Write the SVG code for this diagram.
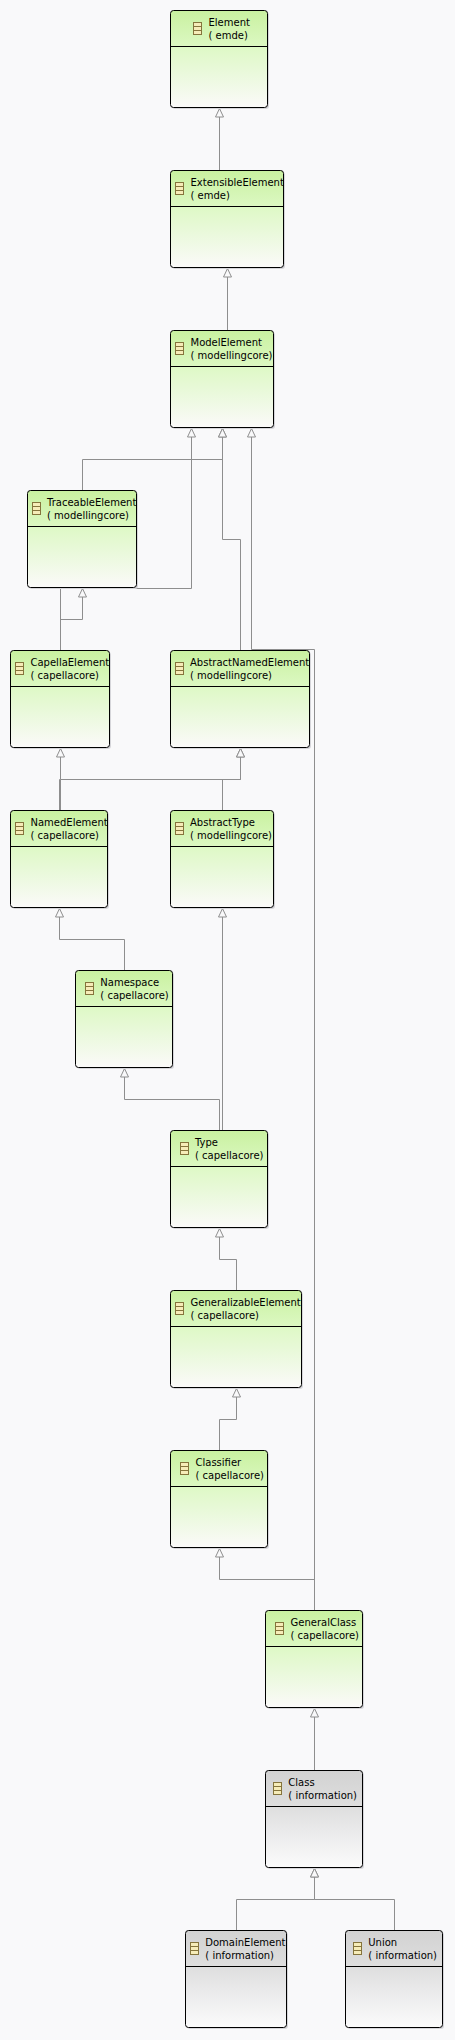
<svg xmlns="http://www.w3.org/2000/svg" width="455" height="2040" viewBox="0 0 455 2040">
<style>
.bg{fill:#f9f9fa}
.conn path{fill:none;stroke:#8e8e8e;stroke-width:1;marker-end:url(#tri)}
.sh{fill:#d6d6da;stroke:none}
.box{stroke:#000;stroke-width:1}
.green{fill:url(#gGreen)}
.gray{fill:url(#gGray)}
.div{stroke:#000;stroke-width:1;fill:none}
.label{font-family:"DejaVu Sans","Liberation Sans",sans-serif;font-size:10px;fill:#000}
.ic rect{fill:#f6ecb8;stroke:#85743c;stroke-width:1}
.ic path{fill:none;stroke:#85743c;stroke-width:1}
</style>
<defs>
<linearGradient id="gGreen" x1="0" y1="0" x2="0" y2="1">
<stop offset="0" stop-color="#c9f1a0"/><stop offset="0.37" stop-color="#dcf8c2"/><stop offset="0.38" stop-color="#def9c6"/><stop offset="0.6" stop-color="#e8f9d8"/><stop offset="1" stop-color="#fbfaf9"/>
</linearGradient>
<linearGradient id="gGray" x1="0" y1="0" x2="0" y2="1">
<stop offset="0" stop-color="#d2d2d2"/><stop offset="0.37" stop-color="#dedede"/><stop offset="0.6" stop-color="#e9e9ea"/><stop offset="1" stop-color="#fbfbfb"/>
</linearGradient>
<marker id="tri" markerUnits="userSpaceOnUse" viewBox="-1 -5 11 10" markerWidth="11" markerHeight="10" refX="8.5" refY="0" orient="auto">
<path d="M0,-4 L8.5,0 L0,4 Z" fill="#f9f9fa" stroke="#8e8e8e" stroke-width="1"/>
</marker>
<g id="icon" class="ic"><rect x="0.5" y="0.5" width="8" height="12"/><path d="M0.5,4.5H8.5M0.5,8.5H8.5"/></g>
<clipPath id="c1"><rect x="170" y="10" width="98" height="36"/></clipPath>
<clipPath id="c2"><rect x="170" y="170" width="113" height="36"/></clipPath>
<clipPath id="c3"><rect x="170" y="330" width="103" height="36"/></clipPath>
<clipPath id="c4"><rect x="27" y="490" width="109" height="36"/></clipPath>
<clipPath id="c5"><rect x="10" y="650" width="99" height="36"/></clipPath>
<clipPath id="c6"><rect x="170" y="650" width="139" height="36"/></clipPath>
<clipPath id="c7"><rect x="10" y="810" width="97" height="36"/></clipPath>
<clipPath id="c8"><rect x="170" y="810" width="103" height="36"/></clipPath>
<clipPath id="c9"><rect x="75" y="970" width="97" height="36"/></clipPath>
<clipPath id="c10"><rect x="170" y="1130" width="97" height="36"/></clipPath>
<clipPath id="c11"><rect x="170" y="1290" width="131" height="36"/></clipPath>
<clipPath id="c12"><rect x="170" y="1450" width="97" height="36"/></clipPath>
<clipPath id="c13"><rect x="265" y="1610" width="97" height="36"/></clipPath>
<clipPath id="c14"><rect x="265" y="1770" width="97" height="36"/></clipPath>
<clipPath id="c15"><rect x="185" y="1930" width="101" height="36"/></clipPath>
<clipPath id="c16"><rect x="345" y="1930" width="97" height="36"/></clipPath>
</defs>
<rect class="bg" x="0" y="0" width="455" height="2040"/>
<g id="connectors" class="conn">
<path d="M219.5,170V108.5"/>
<path d="M227.5,330V268.5"/>
<path d="M82.5,490V459.5H222.5V428.5"/>
<path d="M240.5,650V539.5H222.5V428.5"/>
<path d="M60.5,650V588.5H191.5V428.5"/>
<path d="M314.5,1610V649.5H251.5V428.5"/>
<path d="M60.5,650V619.5H82.5V588.5"/>
<path d="M59.5,810V779.5H60.5V748.5"/>
<path d="M60.5,810V779.5H240.5V748.5"/>
<path d="M222.5,810V779.5H240.5V748.5"/>
<path d="M124.5,970V939.5H59.5V908.5"/>
<path d="M219.5,1130V1099.5H124.5V1068.5"/>
<path d="M222.5,1130V908.5"/>
<path d="M236.5,1290V1259.5H219.5V1228.5"/>
<path d="M219.5,1450V1419.5H236.5V1388.5"/>
<path d="M314.5,1610V1579.5H219.5V1548.5"/>
<path d="M314.5,1770V1708.5"/>
<path d="M236.5,1930V1899.5H314.5V1868.5"/>
<path d="M394.5,1930V1899.5H314.5V1868.5"/>
</g>
<g id="node-element"><rect class="sh" x="172" y="12" width="97" height="97" rx="3"/><rect class="box green" x="170.5" y="10.5" width="97" height="97" rx="3"/><path class="div" d="M170.5,46.5H267.5"/><use href="#icon" x="193" y="22"/><g clip-path="url(#c1)" class="label"><text x="208.5" y="26">Element</text><text x="208.5" y="39">( emde)</text></g></g>
<g id="node-extensibleelement"><rect class="sh" x="172" y="172" width="113" height="97" rx="3"/><rect class="box green" x="170.5" y="170.5" width="113" height="97" rx="3"/><path class="div" d="M170.5,206.5H283.5"/><use href="#icon" x="175" y="182"/><g clip-path="url(#c2)" class="label"><text x="190.5" y="186">ExtensibleElement</text><text x="190.5" y="199">( emde)</text></g></g>
<g id="node-modelelement"><rect class="sh" x="172" y="332" width="103" height="97" rx="3"/><rect class="box green" x="170.5" y="330.5" width="103" height="97" rx="3"/><path class="div" d="M170.5,366.5H273.5"/><use href="#icon" x="175" y="342"/><g clip-path="url(#c3)" class="label"><text x="190.5" y="346">ModelElement</text><text x="190.5" y="359">( modellingcore)</text></g></g>
<g id="node-traceableelement"><rect class="sh" x="29" y="492" width="109" height="97" rx="3"/><rect class="box green" x="27.5" y="490.5" width="109" height="97" rx="3"/><path class="div" d="M27.5,526.5H136.5"/><use href="#icon" x="32" y="502"/><g clip-path="url(#c4)" class="label"><text x="47" y="506">TraceableElement</text><text x="47" y="519">( modellingcore)</text></g></g>
<g id="node-capellaelement"><rect class="sh" x="12" y="652" width="99" height="97" rx="3"/><rect class="box green" x="10.5" y="650.5" width="99" height="97" rx="3"/><path class="div" d="M10.5,686.5H109.5"/><use href="#icon" x="15" y="662"/><g clip-path="url(#c5)" class="label"><text x="30.5" y="666">CapellaElement</text><text x="30.5" y="679">( capellacore)</text></g></g>
<g id="node-abstractnamedelement"><rect class="sh" x="172" y="652" width="139" height="97" rx="3"/><rect class="box green" x="170.5" y="650.5" width="139" height="97" rx="3"/><path class="div" d="M170.5,686.5H309.5"/><use href="#icon" x="175" y="662"/><g clip-path="url(#c6)" class="label"><text x="190" y="666">AbstractNamedElement</text><text x="190" y="679">( modellingcore)</text></g></g>
<g id="node-namedelement"><rect class="sh" x="12" y="812" width="97" height="97" rx="3"/><rect class="box green" x="10.5" y="810.5" width="97" height="97" rx="3"/><path class="div" d="M10.5,846.5H107.5"/><use href="#icon" x="15" y="822"/><g clip-path="url(#c7)" class="label"><text x="30.5" y="826">NamedElement</text><text x="30.5" y="839">( capellacore)</text></g></g>
<g id="node-abstracttype"><rect class="sh" x="172" y="812" width="103" height="97" rx="3"/><rect class="box green" x="170.5" y="810.5" width="103" height="97" rx="3"/><path class="div" d="M170.5,846.5H273.5"/><use href="#icon" x="175" y="822"/><g clip-path="url(#c8)" class="label"><text x="190" y="826">AbstractType</text><text x="190" y="839">( modellingcore)</text></g></g>
<g id="node-namespace"><rect class="sh" x="77" y="972" width="97" height="97" rx="3"/><rect class="box green" x="75.5" y="970.5" width="97" height="97" rx="3"/><path class="div" d="M75.5,1006.5H172.5"/><use href="#icon" x="85" y="982"/><g clip-path="url(#c9)" class="label"><text x="100.3" y="986">Namespace</text><text x="100.3" y="999">( capellacore)</text></g></g>
<g id="node-type"><rect class="sh" x="172" y="1132" width="97" height="97" rx="3"/><rect class="box green" x="170.5" y="1130.5" width="97" height="97" rx="3"/><path class="div" d="M170.5,1166.5H267.5"/><use href="#icon" x="180" y="1142"/><g clip-path="url(#c10)" class="label"><text x="195" y="1146">Type</text><text x="195" y="1159">( capellacore)</text></g></g>
<g id="node-generalizableelement"><rect class="sh" x="172" y="1292" width="131" height="97" rx="3"/><rect class="box green" x="170.5" y="1290.5" width="131" height="97" rx="3"/><path class="div" d="M170.5,1326.5H301.5"/><use href="#icon" x="175" y="1302"/><g clip-path="url(#c11)" class="label"><text x="190.5" y="1306">GeneralizableElement</text><text x="190.5" y="1319">( capellacore)</text></g></g>
<g id="node-classifier"><rect class="sh" x="172" y="1452" width="97" height="97" rx="3"/><rect class="box green" x="170.5" y="1450.5" width="97" height="97" rx="3"/><path class="div" d="M170.5,1486.5H267.5"/><use href="#icon" x="180" y="1462"/><g clip-path="url(#c12)" class="label"><text x="195.5" y="1466">Classifier</text><text x="195.5" y="1479">( capellacore)</text></g></g>
<g id="node-generalclass"><rect class="sh" x="267" y="1612" width="97" height="97" rx="3"/><rect class="box green" x="265.5" y="1610.5" width="97" height="97" rx="3"/><path class="div" d="M265.5,1646.5H362.5"/><use href="#icon" x="275" y="1622"/><g clip-path="url(#c13)" class="label"><text x="290.5" y="1626">GeneralClass</text><text x="290.5" y="1639">( capellacore)</text></g></g>
<g id="node-class"><rect class="sh" x="267" y="1772" width="97" height="97" rx="3"/><rect class="box gray" x="265.5" y="1770.5" width="97" height="97" rx="3"/><path class="div" d="M265.5,1806.5H362.5"/><use href="#icon" x="273" y="1782"/><g clip-path="url(#c14)" class="label"><text x="288.3" y="1786">Class</text><text x="288.3" y="1799">( information)</text></g></g>
<g id="node-domainelement"><rect class="sh" x="187" y="1932" width="101" height="97" rx="3"/><rect class="box gray" x="185.5" y="1930.5" width="101" height="97" rx="3"/><path class="div" d="M185.5,1966.5H286.5"/><use href="#icon" x="190" y="1942"/><g clip-path="url(#c15)" class="label"><text x="205.3" y="1946">DomainElement</text><text x="205.3" y="1959">( information)</text></g></g>
<g id="node-union"><rect class="sh" x="347" y="1932" width="97" height="97" rx="3"/><rect class="box gray" x="345.5" y="1930.5" width="97" height="97" rx="3"/><path class="div" d="M345.5,1966.5H442.5"/><use href="#icon" x="353" y="1942"/><g clip-path="url(#c16)" class="label"><text x="368.3" y="1946">Union</text><text x="368.3" y="1959">( information)</text></g></g>
</svg>
